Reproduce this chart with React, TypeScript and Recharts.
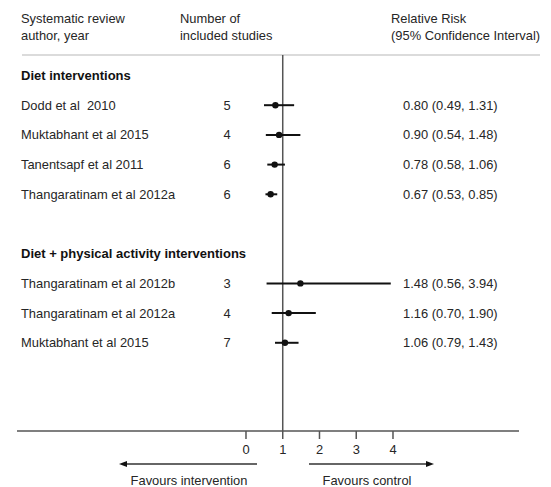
import { ScatterChart, Scatter, XAxis, YAxis, ReferenceLine, ErrorBar } from 'recharts';

const studies = [
  'Dodd et al  2010',
  'Muktabhant et al 2015',
  'Tanentsapf et al 2011',
  'Thangaratinam et al 2012a',
  'Thangaratinam et al 2012b',
  'Thangaratinam et al 2012a',
  'Muktabhant et al 2015',
];
const rows = [1, 2, 3, 4, 7, 8, 9];
const nStudies = [5, 4, 6, 6, 3, 4, 7];
const rr = [0.8, 0.9, 0.78, 0.67, 1.48, 1.16, 1.06];
const ciLow = [0.49, 0.54, 0.58, 0.53, 0.56, 0.7, 0.79];
const ciHigh = [1.31, 1.48, 1.06, 0.85, 3.94, 1.9, 1.43];

const groups = ['Diet interventions', 'Diet + physical activity interventions'];
const groupRows = [0, 6];

const xTicks = [0, 1, 2, 3, 4];

const FONT = '"Liberation Sans", Arial, sans-serif';
const TEXT = '#262626';
const FS = 12.9;

const data = studies.map((name, i) => ({
  name,
  n: nStudies[i],
  x: rr[i],
  y: rows[i],
  err: [rr[i] - ciLow[i], ciHigh[i] - rr[i]],
  label: `${rr[i].toFixed(2)} (${ciLow[i].toFixed(2)}, ${ciHigh[i].toFixed(2)})`,
}));

const groupData = groups.map((name, i) => ({ name, x: 1, y: groupRows[i] }));

const StudyShape = (props: any) => {
  const { cx, cy, payload } = props;
  return (
    <g>
      <circle cx={cx} cy={cy} r={3.2} fill="#111" />
      <text x={21} y={cy} dominantBaseline="central" fontSize={FS} fontFamily={FONT} fill={TEXT} style={{ whiteSpace: 'pre' }}>
        {payload.name}
      </text>
      <text x={227} y={cy} dominantBaseline="central" textAnchor="middle" fontSize={FS} fontFamily={FONT} fill={TEXT}>
        {payload.n}
      </text>
      <text x={403} y={cy} dominantBaseline="central" fontSize={FS} fontFamily={FONT} fill={TEXT}>
        {payload.label}
      </text>
    </g>
  );
};

const GroupShape = (props: any) => {
  const { cy, payload } = props;
  return (
    <text x={21} y={cy} dominantBaseline="central" fontSize={13} fontWeight="bold" fontFamily={FONT} fill="#111">
      {payload.name}
    </text>
  );
};

export default function App() {
  return (
    <div style={{ position: 'absolute', left: 0, top: 0 }}>
      <ScatterChart width={551} height={487} margin={{ top: 55, right: 32, left: 17, bottom: 0 }}>
        <XAxis
          type="number"
          dataKey="x"
          domain={[-6.231, 7.429]}
          ticks={xTicks}
          allowDataOverflow
          height={56}
          tickSize={8}
          tickMargin={6}
          axisLine={{ stroke: '#555', strokeWidth: 1.5 }}
          tickLine={{ stroke: '#555', strokeWidth: 1.5 }}
          tick={{ fontSize: FS, fontFamily: FONT, fill: TEXT }}
        />
        <YAxis type="number" dataKey="y" domain={[-0.69, 11.97]} reversed hide allowDataOverflow />
        <ReferenceLine x={1} stroke="#555" strokeWidth={1.5} />
        <Scatter data={groupData} shape={<GroupShape />} isAnimationActive={false} />
        <Scatter data={data} shape={<StudyShape />} isAnimationActive={false}>
          <ErrorBar dataKey="err" direction="x" width={0} stroke="#111" strokeWidth={2} />
        </Scatter>
        <g fontFamily={FONT} fontSize={FS} fill={TEXT}>
          <text x={21} y={18} dominantBaseline="central">Systematic review</text>
          <text x={21} y={35} dominantBaseline="central">author, year</text>
          <text x={180} y={18} dominantBaseline="central">Number of</text>
          <text x={180} y={35} dominantBaseline="central">included studies</text>
          <text x={391} y={18} dominantBaseline="central">Relative Risk</text>
          <text x={391} y={35} dominantBaseline="central">(95% Confidence Interval)</text>
          <line x1={22} y1={55} x2={540} y2={55} stroke="#cfcfcf" strokeWidth={1.5} />
          <line x1={257} y1={464} x2={126} y2={464} stroke="#333" strokeWidth={1.3} />
          <polygon points="119,464 127,461 127,467" fill="#111" />
          <line x1={309} y1={464} x2={427} y2={464} stroke="#333" strokeWidth={1.3} />
          <polygon points="434,464 426,461 426,467" fill="#111" />
          <text x={189} y={480} dominantBaseline="central" textAnchor="middle">Favours intervention</text>
          <text x={367} y={480} dominantBaseline="central" textAnchor="middle">Favours control</text>
        </g>
      </ScatterChart>
    </div>
  );
}
